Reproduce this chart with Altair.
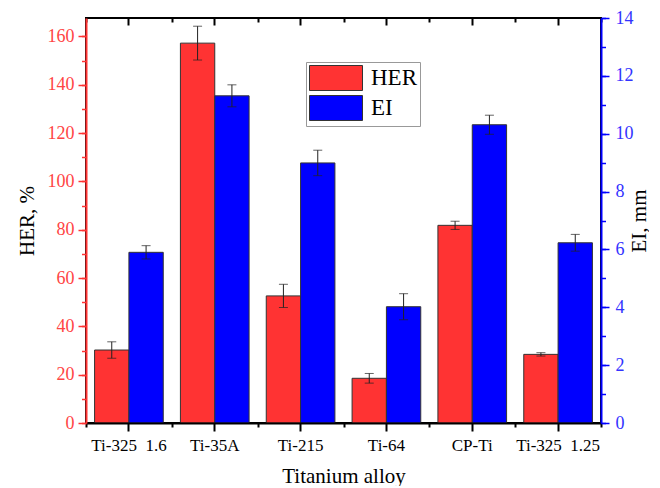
import altair as alt
import pandas as pd

FONT = "Liberation Serif"

alloys = ["Ti-325\u00a0 1.6", "Ti-35A", "Ti-215", "Ti-64", "CP-Ti", "Ti-325\u00a0 1.25"]
series = ["HER", "EI"]
her = [30.2, 157.2, 52.6, 18.5, 81.8, 28.4]
her_err = [3.4, 7.0, 4.8, 2.0, 1.7, 0.7]
ei = [5.9, 11.31, 8.99, 4.02, 10.31, 6.23]
ei_err = [0.23, 0.38, 0.44, 0.45, 0.33, 0.29]
her_major = list(range(0, 161, 20))
her_minor = list(range(0, 161, 10))
ei_major = list(range(0, 15, 2))
ei_minor = list(range(0, 15, 1))
colors = ["#ff3333", "#0000ff"]


def frame(name, vals, errs):
    return pd.DataFrame({
        "alloy": alloys,
        "series": name,
        "value": vals,
        "lo": [v - e for v, e in zip(vals, errs)],
        "hi": [v + e for v, e in zip(vals, errs)],
    })


df_her = frame("HER", her, her_err)
df_ei = frame("EI", ei, ei_err)


def caps(df):
    a = df[["alloy", "series", "lo"]].rename(columns={"lo": "cap"})
    b = df[["alloy", "series", "hi"]].rename(columns={"hi": "cap"})
    return pd.concat([a, b], ignore_index=True)


x_scale = alt.Scale(domain=alloys, paddingInner=0, paddingOuter=0)
xo_scale = alt.Scale(domain=series, paddingInner=0, paddingOuter=0.25)
y_her = alt.Scale(domain=[0, 167.6], nice=False)
y_ei = alt.Scale(domain=[0, 14], nice=False)

legend = alt.Legend(
    orient="none", legendX=220, legendY=44, title=None,
    symbolType="M-1,-1H3.24V1H-1Z", symbolSize=625,
    symbolStrokeColor="#333", symbolStrokeWidth=1, symbolOpacity=1,
    labelFontSize=23, labelFont=FONT, labelColor="black", labelOffset=36,
    rowPadding=0, padding=3, strokeColor="#999", fillColor="white",
)
color = alt.Color("series:N", scale=alt.Scale(domain=series, range=colors), legend=legend)
xo = alt.XOffset("series:N", scale=xo_scale)

common = dict(labelFont=FONT, titleFont=FONT, titleFontWeight="normal", grid=False, zindex=1)

# axes
x_bottom_major = alt.Axis(orient="bottom", title="Titanium alloy", labelAngle=0, tickSize=8,
                          tickWidth=2, tickColor="black", domainColor="black", domainWidth=2,
                          labelColor="black", labelFontSize=17, labelPadding=6,
                          titleFontSize=21, titlePadding=12, titleColor="black", **common)
x_top_major = alt.Axis(orient="top", labels=False, title=None, tickSize=7, offset=-7,
                       tickWidth=2, tickColor="black", domain=False, **common)
x_bottom_minor = alt.Axis(orient="bottom", labels=False, title=None, tickSize=4,
                          tickBand="extent", tickWidth=2, tickColor="black", domain=False, **common)
x_top_minor = alt.Axis(orient="top", labels=False, title=None, tickSize=4, offset=-4,
                       tickBand="extent", tickWidth=2, tickColor="black", domain=False, **common)

y_left_major = alt.Axis(orient="left", title="HER, %", values=her_major, tickSize=8, tickWidth=1.5,
                        tickColor="#ff3333", domainColor="#ff3333", domainWidth=2,
                        labelColor="#ff4444", labelFontSize=18, labelPadding=4,
                        titleFontSize=21, titleColor="black", titlePadding=10, **common)
y_left_minor = alt.Axis(orient="left", title=None, values=her_minor, labels=False, tickSize=4.5,
                        tickWidth=1.5, tickColor="#ff3333", domain=False, **common)
y_right_major = alt.Axis(orient="right", title="EI, mm", values=ei_major, tickSize=8, tickWidth=1.5,
                         tickColor="#0000ff", domainColor="#0000ff", domainWidth=2,
                         labelColor="#3333ff", labelFontSize=18, labelPadding=6,
                         titleFontSize=21, titleColor="black", titlePadding=16,
                         titleAngle=270, **common)
y_right_minor = alt.Axis(orient="right", title=None, values=ei_minor, labels=False, tickSize=4.5,
                         tickWidth=1.5, tickColor="#0000ff", domain=False, **common)

bar_her = alt.Chart(df_her).mark_bar(stroke="#333", strokeWidth=1).encode(
    x=alt.X("alloy:N", scale=x_scale, sort=alloys, axis=x_bottom_major),
    xOffset=xo,
    y=alt.Y("value:Q", scale=y_her, axis=y_left_major),
    color=color,
)
bar_ei = alt.Chart(df_ei).mark_bar(stroke="#333", strokeWidth=1).encode(
    x=alt.X("alloy:N", scale=x_scale, sort=alloys, axis=x_top_major),
    xOffset=xo,
    y=alt.Y("value:Q", scale=y_ei, axis=y_right_major),
    color=color,
)
err_her = alt.Chart(df_her).mark_rule(color="#222", strokeWidth=1).encode(
    x=alt.X("alloy:N", scale=x_scale, sort=alloys, axis=x_bottom_minor),
    xOffset=xo,
    y=alt.Y("lo:Q", scale=y_her, axis=y_left_minor),
    y2="hi:Q",
)
err_ei = alt.Chart(df_ei).mark_rule(color="#222", strokeWidth=1).encode(
    x=alt.X("alloy:N", scale=x_scale, sort=alloys, axis=x_top_minor),
    xOffset=xo,
    y=alt.Y("lo:Q", scale=y_ei, axis=y_right_minor),
    y2="hi:Q",
)
cap_her = alt.Chart(caps(df_her)).mark_tick(color="#222", thickness=1, size=9, orient="horizontal").encode(
    x=alt.X("alloy:N", scale=x_scale, sort=alloys, axis=None),
    xOffset=xo,
    y=alt.Y("cap:Q", scale=y_her, axis=None),
)
cap_ei = alt.Chart(caps(df_ei)).mark_tick(color="#222", thickness=1, size=9, orient="horizontal").encode(
    x=alt.X("alloy:N", scale=x_scale, sort=alloys, axis=None),
    xOffset=xo,
    y=alt.Y("cap:Q", scale=y_ei, axis=None),
)

chart = alt.layer(bar_her, bar_ei, err_her, err_ei, cap_her, cap_ei).resolve_scale(
    y="independent"
).resolve_axis(
    x="independent", y="independent"
).properties(
    width=515, height=405,
    padding={"left": 8, "top": 1, "right": 0, "bottom": 0},
    background="white",
).configure_view(
    stroke="black", strokeWidth=2
).configure_axis(
    labelFont=FONT, titleFont=FONT, titleFontWeight="normal", grid=False
).configure_legend(
    labelFont=FONT
)

chart.save("out.html", embed_options={"renderer": "svg", "actions": False})
